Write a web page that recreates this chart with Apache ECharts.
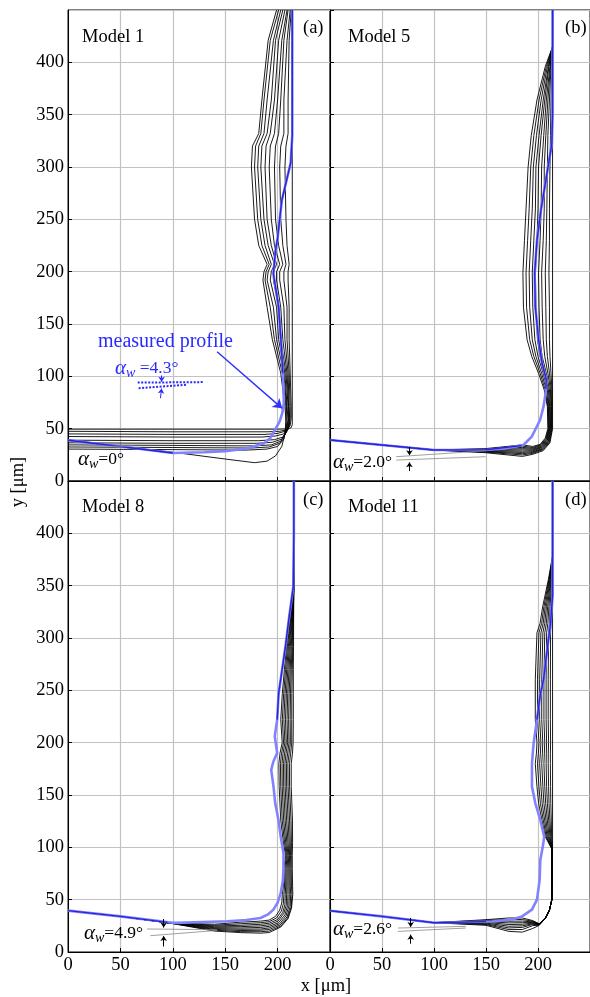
<!DOCTYPE html>
<html><head><meta charset="utf-8">
<script src="https://cdn.jsdelivr.net/npm/echarts@6/dist/echarts.min.js"></script>
<style>html,body{margin:0;padding:0;background:#fff}#c{width:590px;height:997px}</style>
</head><body><div id="c"></div>
<script>
// ---------- axis / label data ----------
const xMin = 0, xMax = 250, yMin = 0, yMax = 450, tickStep = 50;
const modelNames = ['Model 1', 'Model 5', 'Model 8', 'Model 11'];
const panelTags = ['(a)', '(b)', '(c)', '(d)'];
const wearAngleLabels = ['0°', '2.0°', '4.9°', '2.6°'];
const measuredAngleLabel = '4.3°';

// ---------- Model 1 (a) simulated profiles ----------
const model1Curves = [
 [[0,39.5],[50,33],[100,27.5],[150,21],[178,17.5],[190,19],[198,24],[204,33],[207,45],[208,58],[207,71],[203,103],[195,135],[190,166],[186,192],[187,200],[190,207],[182,225],[178,250],[175,300],[176,320],[182,332],[185,364],[191,421],[199,450]],
 [[0,30.5],[100,30],[170,29.5],[190,30.5],[200,33],[206,40],[208,52],[208,62],[208,71],[204.5,103],[197,135],[193,166],[188,192],[189,200],[192,207],[185,225],[181,250],[178,300],[179,320],[184,332],[187,364],[193,421],[201,450]],
 [[0,32.5],[100,32],[175,31.5],[192,32.5],[202,36],[207,44],[209,56],[208.5,71],[206,103],[199,135],[196,166],[190,192],[191,200],[194,207],[188,225],[184,250],[181,300],[182,320],[187,332],[190,364],[196,421],[203,450]],
 [[0,34.5],[100,34],[178,33.5],[194,34.5],[203,38],[208,46],[210,58],[209,71],[207,103],[201,135],[199,166],[193,192],[194,200],[197,207],[191,225],[187,250],[184,300],[185,320],[190,332],[194,364],[198,421],[205,450]],
 [[0,36.5],[100,36],[180,36],[195,37],[204,40],[209,48],[210.5,60],[210,71],[208,103],[203,135],[201,166],[196,192],[196,200],[199,207],[194,225],[190,250],[188,300],[189,320],[193,332],[197,364],[201,421],[207,450]],
 [[0,39],[100,38.5],[182,38.5],[197,39.5],[205,42],[210,49],[211,60],[210.5,71],[209,103],[205,135],[203,166],[199,192],[199,200],[202,207],[197,225],[194,250],[192,300],[193,320],[197,332],[200,364],[204,421],[209,450]],
 [[0,42.5],[100,42],[185,42],[198,43],[206,45],[210.5,51],[211.5,60],[211,71],[210,103],[207,135],[206,166],[202,192],[202,200],[205,207],[201,225],[198,250],[197,300],[198,320],[201,332],[203,364],[206,421],[210,450]],
 [[0,45],[100,44.5],[188,44.5],[200,45.5],[207,47.5],[211,52],[212,60],[212,71],[211,103],[209,135],[209,166],[206,192],[206,200],[208,207],[205,225],[203,250],[202,300],[203,320],[206,332],[206,364],[209,421],[212,450]],
 [[0,47.5],[100,47],[190,47],[202,47.5],[209,49],[212,53],[213,60],[213,71],[212,103],[211,135],[211,166],[210,192],[210,200],[211,207],[209,225],[208,250],[207,300],[208,320],[210,332],[210,364],[211,421],[213,450]],
 [[0,49.5],[200,49.5],[210,49.8],[213,51],[214,54],[214,450]]
];
const model1MeasuredWide = [[0,39],[50,33],[100,26.8],[130,27.5],[150,28.5],[171,31],[187,36],[193,41],[197,48],[202,57],[204.5,65],[206,75],[205.5,90],[205,103],[203.5,130],[201,166],[196,198],[198,220],[200,232],[204,268],[212.5,304],[214,330],[214,450]];
const model1MeasuredLineLow = [[0,39],[50,33],[100,26.8]];
const model1MeasuredLineHigh = [[205,103],[203.5,130],[201,166],[196,198],[198,220],[200,232],[204,268],[212.5,304],[214,330],[214,450]];

// ---------- Model 5 (b) ----------
const model5Curves = [
 [[0,39.2],[50,34.4],[100,29.6],[150,31],[185,34.5],[195,33],[202,35],[207,41],[209.5,50],[209,71],[206,87],[200.5,103],[194,119],[189.5,135],[186,166],[185.5,199],[187,230],[188.5,260],[190.5,300],[193.5,330],[199,364],[207,396],[214,415],[214,450]],
 [[0,39.2],[50,34.4],[100,29.6],[150,30.5],[185,33.3],[195,32],[202.5,34.5],[207.5,40.5],[210,50],[209.5,71],[207,87],[202,103],[196,119],[192,135],[189,166],[188.5,199],[190,230],[191.5,260],[193,300],[196,330],[201,364],[208,396],[214,415],[214,450]],
 [[0,39.2],[50,34.4],[100,29.6],[150,30],[185,32.1],[195,31.2],[203,34],[208,40],[210.5,50],[210,71],[208,87],[203.5,103],[198,119],[194.5,135],[192,166],[191.5,199],[193,230],[194.5,260],[195.5,300],[198.5,330],[203,364],[209,396],[214,415],[214,450]],
 [[0,39.2],[50,34.4],[100,29.6],[150,29.6],[185,30.9],[195,30.4],[203,33],[208.5,39.5],[211,50],[210.6,71],[209,87],[205,103],[200,119],[197,135],[195,166],[194.5,199],[196,230],[197.5,260],[198,300],[201,330],[205,364],[210,396],[214,415],[214,450]],
 [[0,39.2],[50,34.4],[100,29.6],[150,29.2],[185,29.7],[195,29.6],[203.5,32.5],[209,39],[211.5,50],[211.2,71],[210,87],[206.5,103],[202,119],[199.5,135],[198,166],[197.5,199],[199,230],[200,260],[200.5,300],[203,330],[206.5,364],[210.5,396],[214,415],[214,450]],
 [[0,39.2],[50,34.4],[100,29.6],[150,28.8],[185,28.5],[195,28.8],[204,32],[209.5,38.5],[212,50],[211.8,71],[211,87],[208,103],[204,119],[202,135],[201,166],[200.5,199],[202,230],[203,260],[203.5,300],[205.5,330],[208,364],[211.5,396],[214,415],[214,450]],
 [[0,39.2],[50,34.4],[100,29.6],[150,28.4],[185,27.3],[195,28],[204,31],[210,38],[212.5,50],[212.4,71],[212,87],[209.5,103],[206.5,119],[205,135],[204,166],[203.5,199],[205,230],[206,260],[206,300],[207.5,330],[209.5,364],[212,396],[214,415],[214,450]],
 [[0,39.2],[50,34.4],[100,29.6],[150,28],[185,26.1],[195,27.2],[204.5,30.5],[210.5,37.5],[213,50],[213,71],[212.7,87],[211,103],[209,119],[208,135],[207.5,166],[207,199],[208,230],[208.5,260],[209,300],[209.5,330],[211,364],[212.5,396],[214,415],[214,450]],
 [[0,39.2],[50,34.4],[100,29.6],[150,27.5],[185,24.9],[195,26.4],[205,30],[211,37],[213.5,50],[213.5,71],[213.4,87],[212.5,103],[211.5,119],[211,135],[211,166],[210.5,199],[211,230],[211,260],[211.5,300],[212,330],[212.5,364],[213.5,396],[214,415],[214,450]],
 [[0,39.2],[50,34.4],[100,29.6],[150,27],[185,23.5],[195,25.5],[205,29],[211.5,36.5],[214,50],[214,450]]
];
const model5MeasuredWide = [[0,39.2],[50,34.4],[100,29.6],[150,29.6],[169,31.2],[186,34.4],[194,42.4],[202,58.3],[205.3,71],[207.5,85],[208,97],[204,112],[200.6,134.7],[197.4,166.5],[196.8,198.6],[199,230],[203,260],[208,290],[213.3,322],[214,350],[214,450]];
const model5MeasuredLineLow = [[0,39.2],[50,34.4],[100,29.6],[150,29.8],[184,33.8]];
const model5MeasuredLineHigh = [[207.5,88],[208,97],[204,112],[200.6,134.7],[197.4,166.5],[196.8,198.6],[199,230],[203,260],[208,290],[213.3,322],[214,350],[214,450]];

// ---------- Model 8 (c) ----------
const model8Curves = [
 [[0,39.5],[50,34],[95,28],[140,26.5],[165,28.5],[184,29.5],[192,30.5],[198,34],[202,40],[204,47],[204.5,55],[205.5,63],[206,80],[207.5,92],[205.5,105],[203,126],[201.5,158],[201.2,180],[202.3,190],[204.4,200],[203,222],[204.5,247],[206.5,270],[208.5,292],[212,320],[215.5,349],[215.5,450]],
 [[0,39.5],[50,34],[95,28],[140,25.6],[165,27],[184,28],[192,29],[199,32.5],[203.5,39],[205.5,46],[206,55],[206.6,63],[207,80],[208.3,92],[206.6,105],[204.4,126],[203,158],[202.7,180],[203.8,190],[205.7,200],[204.5,222],[205.8,247],[207.6,270],[209.4,292],[212.5,320],[215.5,349],[215.5,450]],
 [[0,39.5],[50,34],[95,28],[140,24.8],[165,25.5],[184,26.5],[192,27.5],[200,31],[205,38],[207,45.5],[207.3,55],[207.7,63],[208,80],[209.1,92],[207.7,105],[205.8,126],[204.4,158],[204.2,180],[205.2,190],[207,200],[206,222],[207.1,247],[208.7,270],[210.3,292],[213,320],[215.5,349],[215.5,450]],
 [[0,39.5],[50,34],[95,28],[140,24],[165,24.2],[184,25],[192,26],[200.5,29.5],[206,37],[208.3,45],[208.6,55],[208.8,63],[209,80],[209.9,92],[208.8,105],[207.2,126],[205.8,158],[205.6,180],[206.7,190],[208.3,200],[207.5,222],[208.4,247],[209.8,270],[211.2,292],[213.5,320],[215.5,349],[215.5,450]],
 [[0,39.5],[50,34],[95,28],[140,23.2],[165,22.9],[184,23.5],[192,24.5],[201,28],[207,35.5],[209.6,44.5],[209.9,55],[209.9,63],[210,80],[210.7,92],[209.9,105],[208.6,126],[207.2,158],[207,180],[208.1,190],[209.6,200],[209,222],[209.7,247],[210.9,270],[212.1,292],[214,320],[215.5,349],[215.5,450]],
 [[0,39.5],[50,34],[95,28],[140,22.4],[165,21.7],[184,22],[192,23],[202,27],[208,34.5],[210.8,44],[211.2,55],[211,63],[211,80],[211.5,92],[211,105],[210,126],[208.6,158],[208.4,180],[209.6,190],[210.9,200],[210.5,222],[211,247],[212,270],[213,292],[214.4,320],[215.5,349],[215.5,450]],
 [[0,39.5],[50,34],[95,28],[140,21.6],[165,20.5],[184,20.8],[192,21.5],[202.5,25.8],[209,33.5],[212,43.5],[212.5,55],[212.1,63],[212,80],[212.3,92],[212.1,105],[211.4,126],[210,158],[209.8,180],[211,190],[212.2,200],[212,222],[212.3,247],[213,270],[213.8,292],[214.8,320],[215.5,349],[215.5,450]],
 [[0,39.5],[50,34],[95,28],[140,20.8],[165,19.4],[184,19.4],[192,20],[203,24.7],[209.5,32.5],[213,43],[213.7,55],[213.2,63],[213,80],[213.1,92],[213.2,105],[212.8,126],[211.4,158],[211.3,180],[212.5,190],[213.5,200],[213.5,222],[213.6,247],[214,270],[214.5,292],[215,320],[215.5,349],[215.5,450]],
 [[0,39.5],[50,34],[95,28],[140,20],[165,18.5],[184,18],[192,18.6],[203,23.8],[210,32],[213.3,42],[214.5,55],[214.3,63],[214,80],[214,92],[214.3,105],[214.2,126],[213,158],[213,180],[214.2,190],[214.8,200],[215,222],[215,247],[215,270],[215.2,292],[215.3,320],[215.5,349],[215.5,450]]
];
const model8MeasuredWide = [[0,39.5],[50,34],[100,28],[104,27.8],[152,29.4],[170,30.5],[183.6,32.5],[191,36],[196,40.5],[200,47],[203,56.4],[205,68],[205.6,78.7],[205.6,94.6],[203,110],[200.8,126.4],[197.7,142.3],[196.1,158],[193.9,174],[196,182],[199.6,190],[197.3,206],[199.6,222],[201,247],[207.5,292],[211,320],[215,349],[215.5,400],[215.5,450]];
const model8MeasuredLineLow = [[0,39.5],[50,34],[95,28.3]];
const model8MeasuredLineHigh = [[199.6,222],[201,247],[207.5,292],[211,320],[215,349],[215.5,400],[215.5,450]];

// ---------- Model 11 (d) ----------
const model11Curves = [
 [[0,39.4],[50,34],[100,28],[150,30.9],[172,32.5],[185,32.5],[195,30],[201,27],[207,32],[211,40],[213.3,50],[213.5,75],[213,99],[207,110],[203.8,126],[200.6,142],[199,158],[197.4,180],[198.5,190],[199,200],[197.4,222],[197.4,260],[199,305],[202,314],[204.5,330],[210,356],[214,378],[214,450]],
 [[0,39.4],[50,34],[100,28],[150,30.3],[172,31],[185,31],[195,29.4],[201,26.8],[207,32],[211,40],[213.3,50],[213.5,75],[213.1,99],[207.9,110],[205.1,126],[202.3,142],[200.9,158],[199.5,180],[200.4,190],[201,200],[199.5,222],[199.5,260],[200.9,305],[203.5,314],[205.7,330],[210.5,356],[214,378],[214,450]],
 [[0,39.4],[50,34],[100,28],[150,29.7],[172,29.4],[185,29.5],[195,28.8],[201,26.6],[207,32],[211,40],[213.3,50],[213.5,75],[213.2,99],[208.8,110],[206.4,126],[204,142],[202.8,158],[201.6,180],[202.3,190],[202.8,200],[201.6,222],[201.6,260],[202.8,305],[205,314],[206.9,330],[211,356],[214,378],[214,450]],
 [[0,39.4],[50,34],[100,28],[150,29],[172,27.8],[185,28],[195,28.2],[201,26.4],[207,32],[211,40],[213.3,50],[213.5,75],[213.3,99],[209.7,110],[207.7,126],[205.7,142],[204.7,158],[203.6,180],[204.2,190],[204.6,200],[203.6,222],[203.6,260],[204.7,305],[206.5,314],[208.1,330],[211.5,356],[214,378],[214,450]],
 [[0,39.4],[50,34],[100,28],[150,28.3],[172,26.2],[185,26.5],[195,27.6],[201,26.2],[207,32],[211,40],[213.3,50],[213.5,75],[213.4,99],[210.6,110],[209,126],[207.4,142],[206.5,158],[205.7,180],[206.1,190],[206.5,200],[205.7,222],[205.7,260],[206.5,305],[208,314],[209.3,330],[212,356],[214,378],[214,450]],
 [[0,39.4],[50,34],[100,28],[150,27.6],[172,24.6],[185,25],[195,27],[201,26],[207,32],[211,40],[213.3,50],[213.5,75],[213.5,99],[211.5,110],[210.3,126],[209,142],[208.3,158],[207.8,180],[208,190],[208.3,200],[207.8,222],[207.8,260],[208.3,305],[209.5,314],[210.5,330],[212.5,356],[214,378],[214,450]],
 [[0,39.4],[50,34],[100,28],[150,26.9],[172,23],[185,23.5],[195,26.4],[201,25.8],[207,32],[211,40],[213.3,50],[213.5,75],[213.6,99],[212.3,110],[211.5,126],[210.6,142],[210.2,158],[209.8,180],[209.9,190],[210.2,200],[209.8,222],[209.8,260],[210.2,305],[211,314],[211.7,330],[213,356],[214,378],[214,450]],
 [[0,39.4],[50,34],[100,28],[150,26.2],[172,21.4],[185,21.5],[195,25.2],[201,25.6],[207,32],[211,40],[213.3,50],[213.5,75],[213.8,99],[213.1,110],[212.8,126],[212.3,142],[212.1,158],[211.9,180],[211.9,190],[212.1,200],[211.9,222],[211.9,260],[212.1,305],[212.5,314],[212.9,330],[213.5,356],[214,378],[214,450]],
 [[0,39.4],[50,34],[100,28],[150,25.5],[172,19.7],[185,19],[195,22.5],[201,25.4],[207,32],[211,40],[213.3,50],[213.5,75],[214,99],[214,450]]
];
const model11MeasuredWide = [[0,39.4],[50,34],[100,28],[156,29.2],[175,31],[184.6,34],[194.2,40.5],[199,50],[201.6,69],[202.2,88],[204.5,100],[206,110],[202.2,126.4],[197.4,142.3],[194.2,158],[194.2,180.5],[195.8,199.6],[199,222],[202,245],[205.3,260],[209,290],[212,314],[214,340],[214,450]];
const model11MeasuredLineLow = [[0,39.4],[50,34],[100,28],[150,29]];
const model11MeasuredLineHigh = [[199,222],[202,245],[205.3,260],[209,290],[212,314],[214,340],[214,450]];

// ---------- annotation geometry (data units) ----------
const measuredArrow = [[142.3,123.5],[204.4,69.4]];
const measuredDotUpper = [[66.5,94],[129.5,94.5]];
const measuredDotLower = [[67.4,88.6],[113.6,92]];
const measuredArrowDown = [[89.3,100.8],[89.3,94.8]];
const measuredArrowUp = [[88.2,79],[89.3,88.3]];
const zeroAngleGuide = [[11.7,32.8],[62.7,33.4]];
const angleGuides = {
  1: {upper: [[63.7,23.2],[149.7,28.9]], lower: [[63.7,20],[149.7,23.2]], down: [[76.4,32.5],[76.4,24.6]], up: [[76.4,9.5],[76.4,17.8]]},
  2: {upper: [[75.4,22],[142.3,21.3]], lower: [[78.6,15.6],[142.3,20.6]], down: [[91.3,31.5],[91.3,23.4]], up: [[91.3,5.3],[91.3,15.2]]},
  3: {upper: [[65.3,22.9],[130.6,24.5]], lower: [[65.3,19.7],[130.6,22.9]], down: [[77.6,32.5],[77.6,23.9]], up: [[77.6,7.9],[77.6,16.6]]}
};

// ---------- chart ----------
const FONT = '"Liberation Serif", "DejaVu Serif", serif';
const BLACK = '#000', LIGHT = '#8282ff', DARK = '#2626d8', TEXTBLUE = '#2a2aff';
const gridBoxes = [
  {left: 68, top: 10, width: 262, height: 471},
  {left: 330, top: 10, width: 262, height: 471},
  {left: 68, top: 481, width: 262, height: 471},
  {left: 330, top: 481, width: 262, height: 471}
];
const allCurves = [model1Curves, model5Curves, model8Curves, model11Curves];
const allWide = [model1MeasuredWide, model5MeasuredWide, model8MeasuredWide, model11MeasuredWide];
const allLines = [[model1MeasuredLineLow, model1MeasuredLineHigh],[model5MeasuredLineLow, model5MeasuredLineHigh],[model8MeasuredLineLow, model8MeasuredLineHigh],[model11MeasuredLineLow, model11MeasuredLineHigh]];

function lineS(data, gi, color, width, extra) {
  return Object.assign({type: 'line', xAxisIndex: gi, yAxisIndex: gi, data: data, symbol: 'none', showSymbol: false,
    silent: true, animation: false, lineStyle: {color: color, width: width}}, extra || {});
}
function arrowS(coords, gi, color, width, size) {
  return {type: 'lines', coordinateSystem: 'cartesian2d', xAxisIndex: gi, yAxisIndex: gi, silent: true, animation: false,
    symbol: ['none', 'arrow'], symbolSize: size, lineStyle: {color: color, width: width, opacity: 1},
    data: [{coords: coords}], z: 5};
}

const series = [];
for (let g = 0; g < 4; g++) {
  allCurves[g].forEach(c => series.push(lineS(c, g, BLACK, 0.9, {z: 2})));
  series.push(lineS(allWide[g], g, LIGHT, 2.6, {z: 3}));
  allLines[g].forEach(l => series.push(lineS(l, g, DARK, 1.4, {z: 4})));
}
// panel (a) annotations
series.push(arrowS(measuredArrow, 0, '#3030ff', 1.4, 9));
series.push(lineS(measuredDotUpper, 0, '#2a2aff', 2, {z: 5, lineStyle: {color: '#2a2aff', width: 2, type: [2, 1.5]}}));
series.push(lineS(measuredDotLower, 0, '#2a2aff', 2, {z: 5, lineStyle: {color: '#2a2aff', width: 2, type: [2, 1.5]}}));
series.push(arrowS(measuredArrowDown, 0, '#2a2aff', 1, 5));
series.push(arrowS(measuredArrowUp, 0, '#2a2aff', 1, 5));
series.push(lineS(zeroAngleGuide, 0, '#999', 0.8, {z: 5}));
[1, 2, 3].forEach(g => {
  const a = angleGuides[g];
  series.push(lineS(a.upper, g, '#888', 0.8, {z: 5}));
  series.push(lineS(a.lower, g, '#888', 0.8, {z: 5}));
  series.push(arrowS(a.down, g, BLACK, 1, 5));
  series.push(arrowS(a.up, g, BLACK, 1, 5));
});

const xAxes = gridBoxes.map((b, i) => ({
  gridIndex: i, type: 'value', min: xMin, max: xMax, interval: tickStep,
  axisLine: {show: true, onZero: false, lineStyle: {color: '#000', width: 1}},
  axisTick: {show: true, inside: true, length: 4, lineStyle: {color: '#000'}},
  axisLabel: {show: i >= 2, showMaxLabel: false, showMinLabel: true, margin: 4, color: '#000', fontSize: 18.5, fontFamily: FONT},
  splitLine: {show: true, lineStyle: {color: '#c2c2c2', width: 1.2}}
}));
const yAxes = gridBoxes.map((b, i) => ({
  gridIndex: i, type: 'value', min: yMin, max: yMax, interval: tickStep,
  axisLine: {show: true, onZero: false, lineStyle: {color: '#000', width: 1}},
  axisTick: {show: true, inside: true, length: 4, lineStyle: {color: '#000'}},
  axisLabel: {show: i % 2 === 0, showMaxLabel: false, showMinLabel: true, margin: 4, color: '#000', fontSize: 18.5, fontFamily: FONT},
  splitLine: {show: true, lineStyle: {color: '#c2c2c2', width: 1.2}}
}));

function txt(x, y, text, opts) {
  return {type: 'text', x: x, y: y, silent: true, z: 10,
    style: Object.assign({text: text, fill: '#000', font: '18.5px ' + FONT, textAlign: 'left', textVerticalAlign: 'middle'}, opts || {})};
}
function alphaTxt(x, y, val, color, space) {
  return {type: 'text', x: x, y: y, silent: true, z: 10,
    style: {text: '{a|α}{s|w}{n|' + (space ? ' ' : '') + '=' + val + '}', fill: color, textAlign: 'left', textVerticalAlign: 'middle',
      rich: {
        a: {fontSize: 21, fontStyle: 'italic', fontFamily: FONT, fill: color},
        s: {fontSize: 14, fontStyle: 'italic', fontFamily: FONT, fill: color, padding: [10, 0, 0, 0]},
        n: {fontSize: 17.5, fontFamily: FONT, fill: color}
      }}};
}

const graphics = [
  txt(82, 37, modelNames[0]), txt(303, 28, panelTags[0]),
  txt(348, 37, modelNames[1]), txt(565, 28, panelTags[1]),
  txt(82, 507, modelNames[2]), txt(303, 500, panelTags[2]),
  txt(348, 507, modelNames[3]), txt(565, 500, panelTags[3]),
  txt(326, 986, 'x [μm]', {textAlign: 'center'}),
  {type: 'text', x: 18, y: 482, rotation: Math.PI / 2, silent: true, z: 10,
    style: {text: 'y [μm]', fill: '#000', font: '18.5px ' + FONT, textAlign: 'center', textVerticalAlign: 'middle'}},
  txt(98, 342, 'measured profile', {fill: TEXTBLUE, font: '20px ' + FONT}),
  alphaTxt(115, 368, measuredAngleLabel, TEXTBLUE, true),
  alphaTxt(78, 459, wearAngleLabels[0], '#000', false),
  alphaTxt(333, 462, wearAngleLabels[1], '#000', false),
  alphaTxt(84, 933, wearAngleLabels[2], '#000', false),
  alphaTxt(333, 929, wearAngleLabels[3], '#000', false)
];

const chart = echarts.init(document.getElementById('c'), null, {renderer: 'canvas'});
chart.setOption({
  animation: false,
  backgroundColor: '#fff',
  textStyle: {fontFamily: FONT},
  grid: gridBoxes.map(b => Object.assign({show: true, borderColor: '#000', borderWidth: 1, backgroundColor: 'transparent', containLabel: false}, b)),
  xAxis: xAxes,
  yAxis: yAxes,
  series: series,
  graphic: graphics
});
</script></body></html>
